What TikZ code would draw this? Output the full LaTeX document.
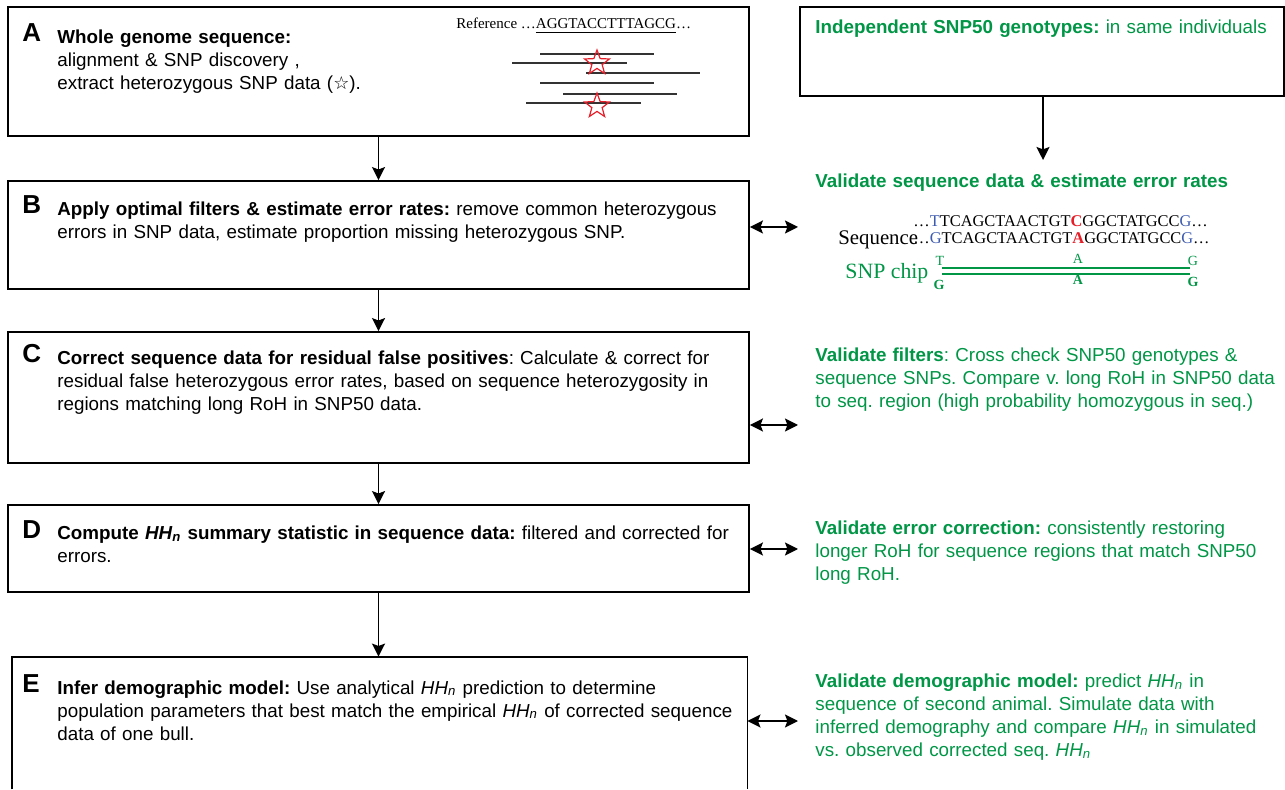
\documentclass[tikz,border=0pt]{standalone}
\usepackage{fontspec}
\setmainfont{Liberation Sans}
\newfontfamily\seqfont{Liberation Serif}
\newfontfamily\symfont{DejaVu Sans}
\usetikzlibrary{arrows.meta,shapes.geometric}
\definecolor{valgreen}{RGB}{0,150,70}
\definecolor{basered}{RGB}{230,30,40}
\definecolor{baseblue}{RGB}{60,90,175}
\newcommand{\hhn}{\textit{HH\textsubscript{n}}}
\frenchspacing
\begin{document}
\begin{tikzpicture}[x=0.5pt,y=-0.5pt,
  stagebox/.style={draw=black, line width=0.9pt, inner sep=0pt},
  flow/.style={line width=0.9pt, -{Stealth[length=6.5pt,width=6.5pt,inset=1.2pt]}},
  biflow/.style={line width=0.9pt, {Stealth[length=6.5pt,width=6.5pt,inset=1.2pt]}-{Stealth[length=6.5pt,width=6.5pt,inset=1.2pt]}},
  stageletter/.style={anchor=base west, inner sep=0pt, font=\fontsize{13}{14}\selectfont\bfseries},
  stagetext/.style={anchor=base west, inner sep=0pt, text width=350pt, align=left, font=\fontsize{9.4}{11.5}\selectfont},
  valtext/.style={stagetext, text width=240pt, text=valgreen},
  readline/.style={line width=0.7pt, black!80},
  snpstar/.style={star, star points=5, star point ratio=2.4, draw=basered, line width=0.6pt, minimum size=13pt, inner sep=0pt},
  seqtext/.style={anchor=base west, inner sep=0pt, font=\seqfont\fontsize{8.2}{9}\selectfont},
  chipbase/.style={inner sep=0pt, text=valgreen, font=\seqfont\fontsize{7}{7}\selectfont}
]
\useasboundingbox (0,0) rectangle (1285,790);

% stage boxes
\node[stagebox, minimum width=370.5pt, minimum height=64.5pt] (boxA) at (378.5,71.5) {};
\node[stagebox, minimum width=370.5pt, minimum height=54pt] (boxB) at (378.5,235) {};
\node[stagebox, minimum width=370.5pt, minimum height=65.5pt] (boxC) at (378.5,397.5) {};
\node[stagebox, minimum width=370.5pt, minimum height=43.5pt] (boxD) at (378.5,548.5) {};
\node[inner sep=0pt, minimum width=367.5pt, minimum height=66pt] (boxE) at (379.5,723) {};
\draw[line width=0.9pt] (boxE.south west) |- (boxE.north east) -- (boxE.south east);
\node[stagebox, minimum width=242pt, minimum height=44.5pt] (snpbox) at (1042,51.5) {};

% stage texts
\node[stageletter] (letA) at (22,42) {A};
\node[stagetext] (txtA) at (57,44) {\textbf{Whole genome sequence:}\\
  alignment \& SNP discovery ,\\
  extract heterozygous SNP data ({\symfont\fontsize{9}{9}\selectfont ☆}).};
\node[stageletter] (letB) at (22,214) {B};
\node[stagetext] (txtB) at (57,216) {\textbf{Apply optimal filters \& estimate error rates:} remove common heterozygous\\
  errors in SNP data, estimate proportion missing heterozygous SNP.};
\node[stageletter] (letC) at (22,363) {C};
\node[stagetext] (txtC) at (57,365) {\textbf{Correct sequence data for residual false positives}: Calculate \& correct for\\
  residual false heterozygous error rates, based on sequence heterozygosity in\\
  regions matching long RoH in SNP50 data.};
\node[stageletter] (letD) at (22,539) {D};
\node[stagetext] (txtD) at (57,540) {\textbf{Compute \hhn{} summary statistic in sequence data:} filtered and corrected for\\
  errors.};
\node[stageletter] (letE) at (22,692) {E};
\node[stagetext] (txtE) at (57,694) {\textbf{Infer demographic model:} Use analytical \hhn{} prediction to determine\\
  population parameters that best match the empirical \hhn{} of corrected sequence\\
  data of one bull.};

% validation texts
\node[valtext] (snptxt) at (815,34) {\textbf{Independent SNP50 genotypes:} in same individuals};
\node[valtext] (valseq) at (815,188) {\textbf{Validate sequence data \& estimate error rates}};
\node[valtext] (valfilt) at (815,362) {\textbf{Validate filters}: Cross check SNP50 genotypes \&\\
  sequence SNPs. Compare v. long RoH in SNP50 data\\
  to seq. region (high probability homozygous in seq.)};
\node[valtext] (valerr) at (815,535) {\textbf{Validate error correction:} consistently restoring\\
  longer RoH for sequence regions that match SNP50\\
  long RoH.};
\node[valtext] (valdemo) at (815,688) {\textbf{Validate demographic model:} predict \hhn{} in\\
  sequence of second animal. Simulate data with\\
  inferred demography and compare \hhn{} in simulated\\
  vs. observed corrected seq. \hhn};

% reads against the reference
\node[anchor=base west, inner sep=0pt, font=\seqfont\fontsize{7.5}{8}\selectfont] (reftxt) at (456,29)
  {Reference …\underline{AGGTACCTTTAGCG}…};
\draw[readline] (540,54) -- (654,54);
\draw[readline] (512,63) -- (627,63);
\draw[readline] (586,73) -- (700,73);
\draw[readline] (540,83) -- (654,83);
\draw[readline] (563,94) -- (677,94);
\draw[readline] (526,103) -- (641,103);
\node[snpstar] (star1) at (597,63) {};
\node[snpstar] (star2) at (597,106) {};

% sequence vs chip
\node[seqtext] (seq1) at (913,227) {…\textcolor{baseblue}{T}TCAGCTAACTGT\textcolor{basered}{\textbf{C}}GGCTATGCC\textcolor{baseblue}{G}…};
\node[seqtext] (seq2) at (913,244) {…\textcolor{baseblue}{G}TCAGCTAACTGT\textcolor{basered}{\textbf{A}}GGCTATGCC\textcolor{baseblue}{G}…};
\node[anchor=base west, inner sep=0pt, font=\seqfont\fontsize{10.4}{11}\selectfont] (seqlab) at (838,245) {Sequence};
\node[anchor=base west, inner sep=0pt, text=valgreen, font=\seqfont\fontsize{10.9}{12}\selectfont] (chiplab) at (845,279) {SNP chip};
\draw[valgreen, line width=1pt] (942,268) -- (1190,268);
\draw[valgreen, line width=1pt] (942,274) -- (1190,274);
\node[chipbase, anchor=base] (chipT) at (940,266) {T};
\node[chipbase, anchor=base] (chipG1) at (939,290) {\textbf{G}};
\node[chipbase, anchor=base] (chipA1) at (1078,264) {A};
\node[chipbase, anchor=base] (chipA2) at (1078,285) {\textbf{A}};
\node[chipbase, anchor=base] (chipG2) at (1193,266) {G};
\node[chipbase, anchor=base] (chipG3) at (1193,287) {\textbf{G}};

% connectors
\draw[flow] (boxA.south) -- (boxB.north);
\draw[flow] (boxB.south) -- (boxC.north);
\draw[flow] (boxC.south) -- (boxD.north);
\draw[flow] (boxD.south) -- (boxD.south |- boxE.north);
\coordinate (valtop) at (1043,160);
\draw[flow] (snpbox.south -| valtop) -- (valtop);
\coordinate (tipB) at (798,227);
\coordinate (tipC) at (798,425);
\coordinate (tipD) at (798,549);
\coordinate (tipE) at (798,721);
\draw[biflow] (tipB -| boxB.east) -- (tipB);
\draw[biflow] (tipC -| boxC.east) -- (tipC);
\draw[biflow] (tipD -| boxD.east) -- (tipD);
\draw[biflow] (tipE -| boxE.east) -- (tipE);
\end{tikzpicture}
\end{document}
